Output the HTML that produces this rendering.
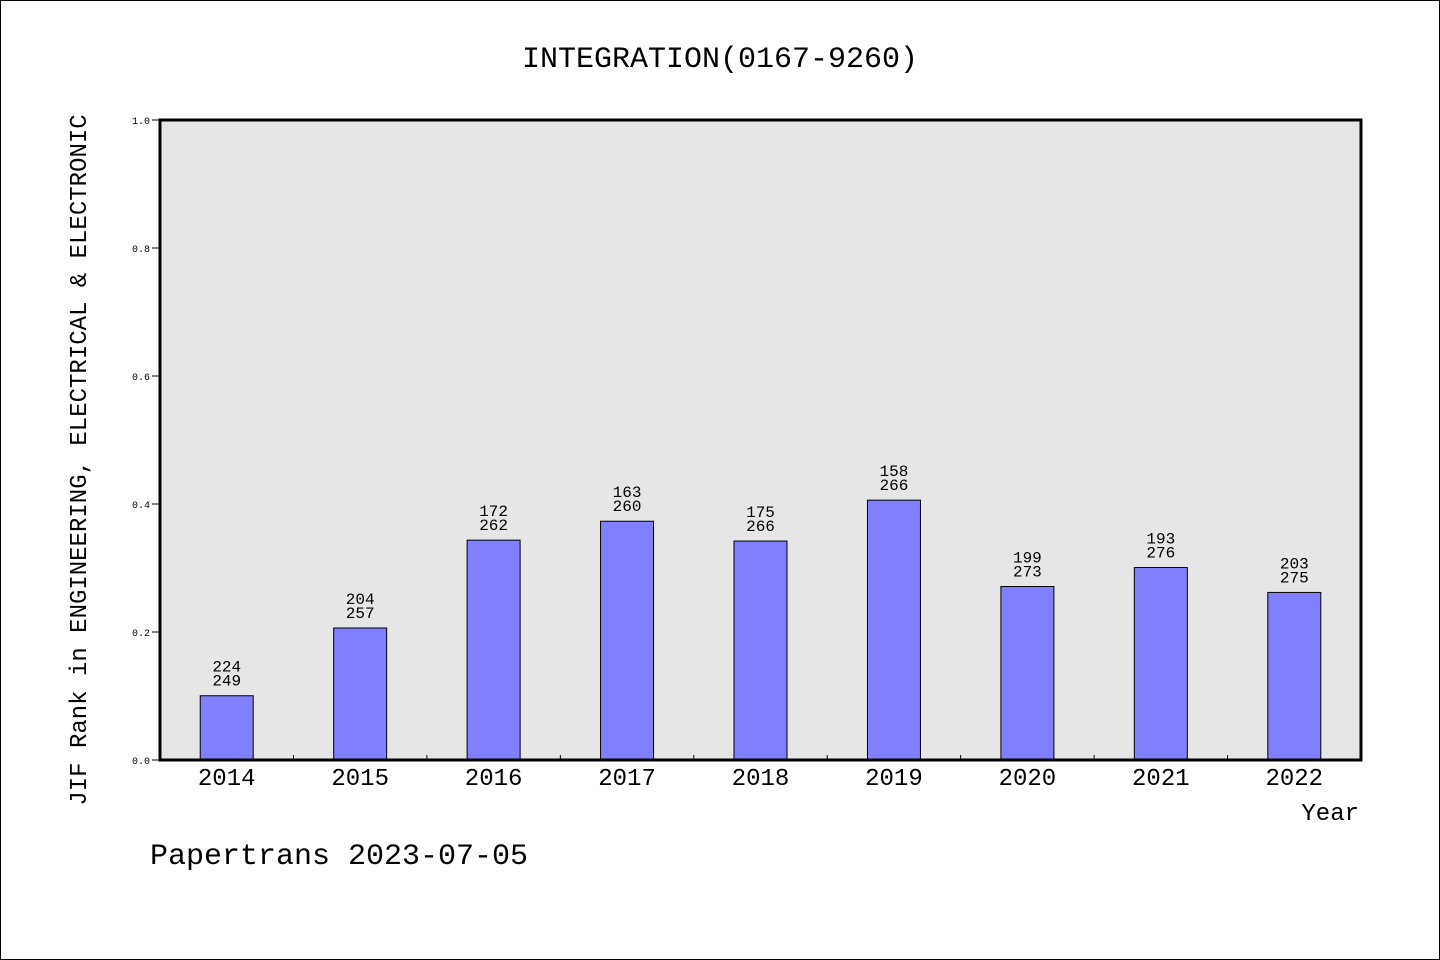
<!DOCTYPE html>
<html><head><meta charset="utf-8"><style>
body{margin:0;background:#fff}
svg{display:block;font-family:"Liberation Mono","WenQuanYi Zen Hei",monospace}
</style></head><body>
<svg id="c" width="1440" height="960">
<rect x="0.5" y="0.5" width="1439" height="959" fill="#fff" stroke="#000"/>
<text x="720" y="67" text-anchor="middle" font-size="30">INTEGRATION(0167-9260)</text>
<rect x="160" y="120" width="1201" height="640" fill="#e6e6e6"/>
<g id="marks"></g>
<rect x="160" y="120" width="1201" height="640" fill="none" stroke="#000" stroke-width="3"/>
<text transform="translate(86,460) rotate(-90)" text-anchor="middle" font-size="24">JIF Rank in ENGINEERING, ELECTRICAL &amp; ELECTRONIC</text>
<text x="1359" y="820" text-anchor="end" font-size="24">Year</text>
<text x="150" y="864" font-size="30">Papertrans 2023-07-05</text>
</svg>
<script>
const years=["2014","2015","2016","2017","2018","2019","2020","2021","2022"];
const ranks=[224,204,172,163,175,158,199,193,203];
const totals=[249,257,262,260,266,266,273,276,275];
const yTicks=[0,0.2,0.4,0.6,0.8,1.0];
const NS="http://www.w3.org/2000/svg";
const g=document.getElementById("marks");
const X0=160,W=1201,Y0=760,H=640;
const bw=W/years.length;
const y=v=>Y0-v*H;
function mk(t,a){const e=document.createElementNS(NS,t);for(const k in a)e.setAttribute(k,a[k]);g.appendChild(e);return e;}
yTicks.forEach(v=>{
 const l=mk("line",{x1:152,x2:160,y1:y(v),y2:y(v),stroke:"#000"});
 
 
 const t=mk("text",{x:150,y:y(v)+4,"text-anchor":"end","font-size":10});
 t.textContent=v.toFixed(1);
 
 
});
years.forEach((yr,i)=>{
 const v=(totals[i]-ranks[i])/totals[i];
 const cx=X0+bw*(i+0.5);
 const b=mk("rect",{x:cx-26.5,y:y(v),width:53,height:Y0-y(v),fill:"#8080ff",stroke:"#000","stroke-width":1});
 
 
 const t1=mk("text",{x:cx,y:y(v)-24,"text-anchor":"middle","font-size":16});
 t1.textContent=ranks[i];
 
 
 const t2=mk("text",{x:cx,y:y(v)-10,"text-anchor":"middle","font-size":16});
 t2.textContent=totals[i];
 
 
 const xl=mk("text",{x:cx,y:785,"text-anchor":"middle","font-size":24});
 xl.textContent=yr;
 
 
 if(i>0){
  const tk=mk("line",{x1:X0+bw*i,x2:X0+bw*i,y1:Y0,y2:Y0-5,stroke:"#000"});
  
  
 }
});
</script>
</body></html>
